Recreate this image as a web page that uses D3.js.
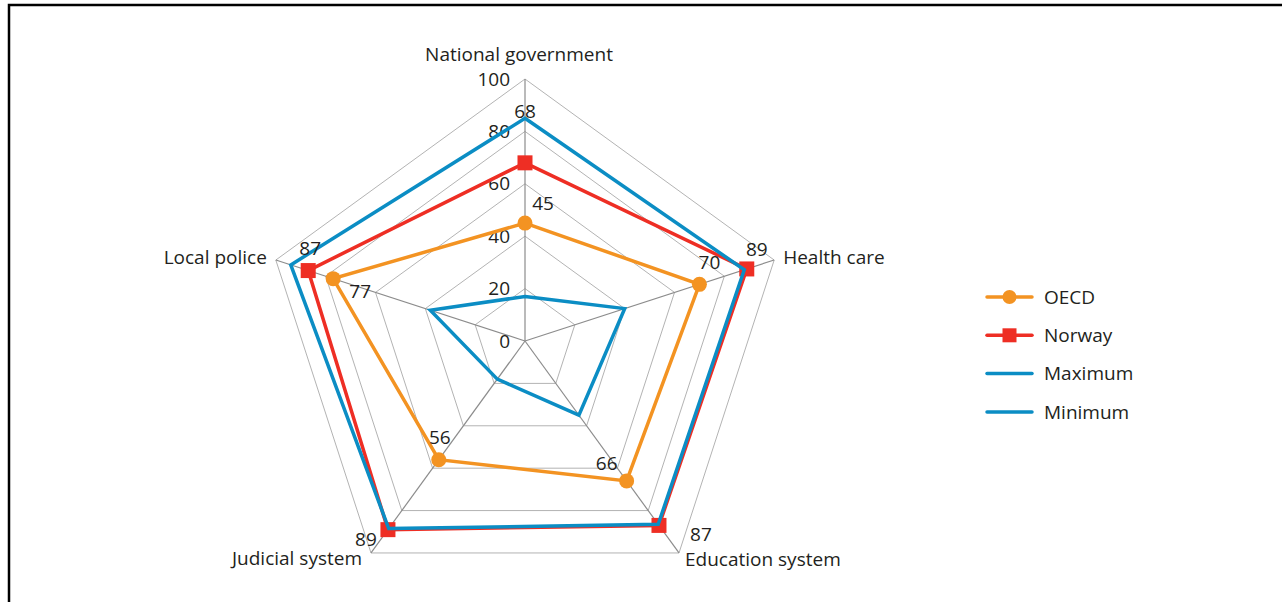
<!DOCTYPE html>
<html>
<head>
<meta charset="utf-8">
<script src="https://cdn.jsdelivr.net/npm/d3@7"></script>
<style>
  html, body { margin: 0; padding: 0; background: #fff; }
  svg { display: block; }
  text { font-family: "Open Sans", sans-serif; fill: #231f20; }
</style>
</head>
<body>
<div id="chart"></div>
<script>
// categories (clockwise from top)
const categories = ["National government", "Health care", "Education system", "Judicial system", "Local police"]

// series values
const oecd = [45, 70, 66, 56, 77]
const norway = [68, 89, 87, 89, 87]
const maximum = [85, 88, 86.5, 88.5, 94]
const minimum = [17, 40, 35, 18, 38]

// ticks on the top axis
const ticks = [0, 20, 40, 60, 80, 100]

// value labels shown on the chart
const labelValues = [
  [68, 45],
  [89, 70],
  [66, 87],
  [56, 89],
  [87, 77],
]

const width = 1282
const height = 602
const cx = 525
const cy = 341
const R = 262

const colors = {
  oecd: "#f39322",
  norway: "#ee2e24",
  blue: "#0b8dc4",
}

const svg = d3
  .select("#chart")
  .append("svg")
  .attr("width", width)
  .attr("height", height)

// frame (top and left edges)
svg
  .append("path")
  .attr("d", `M9,${height} V5 H${width}`)
  .attr("fill", "none")
  .attr("stroke", "#000")
  .attr("stroke-width", 2.5)

const r = d3.scaleLinear().domain([0, 100]).range([0, R])
const angle = d3
  .scaleLinear()
  .domain([0, categories.length])
  .range([0, 2 * Math.PI])

const point = (v, i) => {
  const a = angle(i)
  return [cx + r(v) * Math.sin(a), cy - r(v) * Math.cos(a)]
}

const g = svg.append("g")

/*
 * ------------------------------------------------
 * Grid
 * ------------------------------------------------
 */
g.selectAll("polygon.ring")
  .data(ticks.filter((t) => t > 0))
  .enter()
  .append("polygon")
  .attr("class", "ring")
  .attr("points", (t) => categories.map((c, i) => point(t, i).join(",")).join(" "))
  .attr("fill", "none")
  .attr("stroke", "#b3b3b3")
  .attr("stroke-width", 1)

g.selectAll("line.spoke")
  .data(categories)
  .enter()
  .append("line")
  .attr("class", "spoke")
  .attr("x1", cx)
  .attr("y1", cy)
  .attr("x2", (c, i) => point(100, i)[0])
  .attr("y2", (c, i) => point(100, i)[1])
  .attr("stroke", "#8c8c8c")
  .attr("stroke-width", 1.2)

// tick labels
g.selectAll("text.tick")
  .data(ticks)
  .enter()
  .append("text")
  .attr("class", "tick")
  .attr("x", cx - 15)
  .attr("y", (t) => cy - r(t))
  .attr("dy", "0.35em")
  .attr("text-anchor", "end")
  .attr("font-size", 19)
  .text((t) => t)

// category labels
const catLayout = [
  { dx: -6, dy: -25, anchor: "middle" },
  { dx: 9, dy: -3, anchor: "start" },
  { dx: 6, dy: 6, anchor: "start" },
  { dx: -9, dy: 5, anchor: "end" },
  { dx: -9, dy: -3, anchor: "end" },
]

g.selectAll("text.cat")
  .data(categories)
  .enter()
  .append("text")
  .attr("class", "cat")
  .attr("x", (c, i) => point(100, i)[0] + catLayout[i].dx)
  .attr("y", (c, i) => point(100, i)[1] + catLayout[i].dy)
  .attr("dy", "0.35em")
  .attr("text-anchor", (c, i) => catLayout[i].anchor)
  .attr("font-size", 19)
  .text((c) => c)

/*
 * ------------------------------------------------
 * Series
 * ------------------------------------------------
 */
const line = d3
  .line()
  .x((d) => d[0])
  .y((d) => d[1])
  .curve(d3.curveLinearClosed)

const series = [
  { key: "oecd", label: "OECD", values: oecd, color: colors.oecd, marker: "circle" },
  { key: "norway", label: "Norway", values: norway, color: colors.norway, marker: "square" },
  { key: "max", label: "Maximum", values: maximum, color: colors.blue, marker: null },
  { key: "min", label: "Minimum", values: minimum, color: colors.blue, marker: null },
]

series.forEach((s) => {
  const pts = s.values.map((v, i) => point(v, i))
  g.append("path")
    .attr("d", line(pts))
    .attr("fill", "none")
    .attr("stroke", s.color)
    .attr("stroke-width", 3.5)
    .attr("stroke-linejoin", "miter")

  if (s.marker === "circle") {
    g.selectAll(null)
      .data(pts)
      .enter()
      .append("circle")
      .attr("cx", (d) => d[0])
      .attr("cy", (d) => d[1])
      .attr("r", 7.5)
      .attr("fill", s.color)
  } else if (s.marker === "square") {
    g.selectAll(null)
      .data(pts)
      .enter()
      .append("rect")
      .attr("x", (d) => d[0] - 7.5)
      .attr("y", (d) => d[1] - 7.5)
      .attr("width", 15)
      .attr("height", 15)
      .attr("fill", s.color)
  }
})

/*
 * ------------------------------------------------
 * Value labels
 * ------------------------------------------------
 */
// anchor series and pixel offset for each label
const labelLayout = [
  [{ s: norway, dx: 0, dy: -51 }, { s: oecd, dx: 18, dy: -20 }],
  [{ s: norway, dx: 10, dy: -20 }, { s: oecd, dx: 10, dy: -22 }],
  [{ s: oecd, dx: -20, dy: -18 }, { s: norway, dx: 42, dy: 9 }],
  [{ s: oecd, dx: 1, dy: -22 }, { s: norway, dx: -22, dy: 10 }],
  [{ s: norway, dx: 2, dy: -22 }, { s: oecd, dx: 27, dy: 13 }],
]

labelValues.forEach((vals, i) => {
  vals.forEach((v, j) => {
    const l = labelLayout[i][j]
    const p = point(l.s[i], i)
    g.append("text")
      .attr("x", p[0] + l.dx)
      .attr("y", p[1] + l.dy)
      .attr("dy", "0.35em")
      .attr("text-anchor", "middle")
      .attr("font-size", 19)
      .text(v)
  })
})

/*
 * ------------------------------------------------
 * Legend
 * ------------------------------------------------
 */
const legend = svg.append("g").attr("transform", "translate(987 297)")

const item = legend
  .selectAll("g")
  .data(series)
  .enter()
  .append("g")
  .attr("transform", (d, i) => `translate(0 ${i * 38.3})`)

item
  .append("line")
  .attr("x1", 0)
  .attr("x2", 45)
  .attr("stroke", (d) => d.color)
  .attr("stroke-width", 3.5)
  .attr("stroke-linecap", "round")

item
  .filter((d) => d.marker === "circle")
  .append("circle")
  .attr("cx", 22.5)
  .attr("r", 7)
  .attr("fill", (d) => d.color)

item
  .filter((d) => d.marker === "square")
  .append("rect")
  .attr("x", 15.5)
  .attr("y", -7)
  .attr("width", 14)
  .attr("height", 14)
  .attr("fill", (d) => d.color)

item
  .append("text")
  .attr("x", 57)
  .attr("dy", "0.35em")
  .attr("font-size", 19)
  .text((d) => d.label)
</script>
</body>
</html>
